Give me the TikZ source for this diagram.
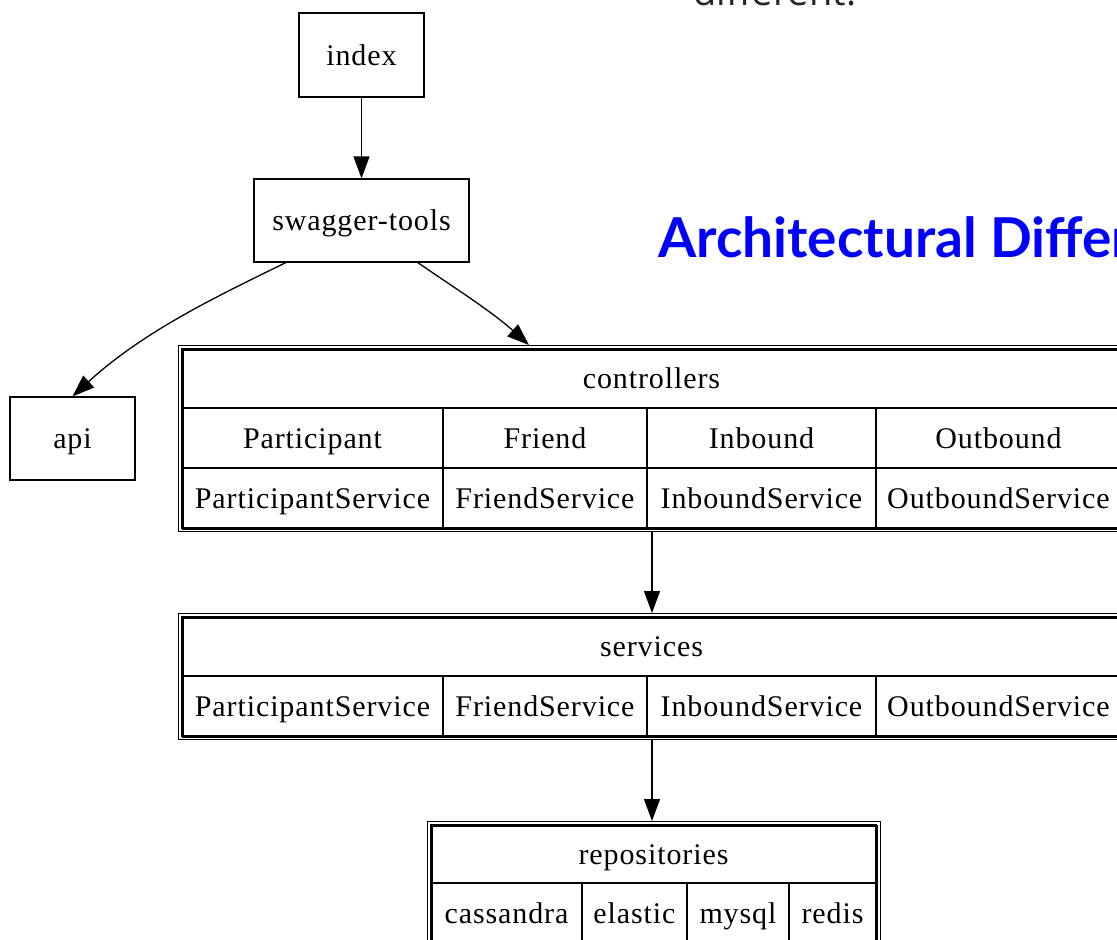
\documentclass[tikz,border=0pt]{standalone}
\usepackage{fontspec}
\setmainfont{Liberation Serif}[LetterSpace=3]
\newfontfamily\titlefont{Lato}
\newfontfamily\topfont{Open Sans}
\usetikzlibrary{arrows.meta}
\begin{document}
\begin{tikzpicture}[x=1pt,y=-1pt,
  box/.style={draw, line width=1.3pt, inner sep=0pt, text height=24pt, text depth=4pt, font=\fontsize{30}{36}\selectfont},
  cell/.style={draw, line width=1.3pt, inner sep=0pt, text height=24pt, text depth=4pt, font=\fontsize{30}{36}\selectfont},
  outerframe/.style={draw, line width=1pt, inner sep=0pt, anchor=north west},
  innerframe/.style={draw, line width=2pt, inner sep=0pt, anchor=north west},
  edge/.style={line width=1.3pt, -{Triangle[width=16pt,length=22pt]}}
]
\clip (0,0) rectangle (1117,940);
\useasboundingbox (0,0) rectangle (1117,940);
\fill[white] (0,0) rectangle (1117,940);

% cut-off text at the top
\node[anchor=base west, inner sep=0pt, text=black!85, font=\topfont\fontsize{38}{44}\selectfont] (diff) at (693,5) {different.};
% title
\node[anchor=base west, inner sep=0pt, text={rgb,255:red,0;green,0;blue,255}, font=\titlefont\bfseries\fontsize{55}{60}\selectfont] (title) at (658,257) {Architectural Differences};

% simple boxes
\node[box, minimum width=125pt, minimum height=84pt] (index) at (361.5,55) {index};
\node[box, minimum width=215pt, minimum height=83pt] (swagger) at (361.5,220.5) {swagger-tools};
\node[box, minimum width=125pt, minimum height=83pt] (api) at (72.5,438.5) {api};

% controllers table
\node[outerframe, minimum width=947pt, minimum height=186pt] (ctrlO) at (178,345) {};
\node[innerframe, minimum width=939pt, minimum height=179pt] (ctrl) at (182,349) {};
\node[cell, minimum width=939pt, minimum height=59pt] (ctrlT) at (651.5,378.5) {controllers};
\node[cell, minimum width=261pt, minimum height=60pt] (cP) at (312.5,438) {Participant};
\node[cell, minimum width=204pt, minimum height=60pt] (cF) at (545,438) {Friend};
\node[cell, minimum width=229pt, minimum height=60pt] (cI) at (761.5,438) {Inbound};
\node[cell, minimum width=245pt, minimum height=60pt] (cO) at (998.5,438) {Outbound};
\node[cell, minimum width=261pt, minimum height=60pt] (cPS) at (312.5,498) {ParticipantService};
\node[cell, minimum width=204pt, minimum height=60pt] (cFS) at (545,498) {FriendService};
\node[cell, minimum width=229pt, minimum height=60pt] (cIS) at (761.5,498) {InboundService};
\node[cell, minimum width=245pt, minimum height=60pt] (cOS) at (998.5,498) {OutboundService};
\draw[innerframe] (182,349) rectangle (1121,528);

% services table
\node[outerframe, minimum width=947pt, minimum height=126pt] (servO) at (178,613) {};
\node[innerframe, minimum width=939pt, minimum height=119pt] (serv) at (182,617) {};
\node[cell, minimum width=939pt, minimum height=59pt] (sT) at (651.5,646.5) {services};
\node[cell, minimum width=261pt, minimum height=60pt] (sPS) at (312.5,706) {ParticipantService};
\node[cell, minimum width=204pt, minimum height=60pt] (sFS) at (545,706) {FriendService};
\node[cell, minimum width=229pt, minimum height=60pt] (sIS) at (761.5,706) {InboundService};
\node[cell, minimum width=245pt, minimum height=60pt] (sOS) at (998.5,706) {OutboundService};
\draw[innerframe] (182,617) rectangle (1121,736);

% repositories table
\node[outerframe, minimum width=453pt, minimum height=140pt] (repoO) at (427,821) {};
\node[innerframe, minimum width=445pt, minimum height=130pt] (repo) at (431,825) {};
\node[cell, minimum width=445pt, minimum height=58pt] (rT) at (653.5,854) {repositories};
\node[cell, minimum width=151pt, minimum height=60pt] (rC) at (506.5,913) {cassandra};
\node[cell, minimum width=105pt, minimum height=60pt] (rE) at (634.5,913) {elastic};
\node[cell, minimum width=102pt, minimum height=60pt] (rM) at (738,913) {mysql};
\node[cell, minimum width=87pt, minimum height=60pt] (rR) at (832.5,913) {redis};
\draw[innerframe] (431,825) rectangle (876,960);

% connector end points
\coordinate (swL) at (287,262);
\coordinate (swR) at (417,262);
\coordinate (ctrlIn) at (529,345);
\coordinate (ctrlOut) at (652,531);
\coordinate (servIn) at (652,613);
\coordinate (servOut) at (652,739);
\coordinate (repoIn) at (652,821);

% connectors
\draw[edge] (index.south) -- (swagger.north);
\draw[edge] (swL) .. controls (220,295) and (145,330) .. (api.north);
\draw[edge] (swR) .. controls (450,285) and (490,310) .. (ctrlIn);
\draw[edge] (ctrlOut) -- (servIn);
\draw[edge] (servOut) -- (repoIn);
\end{tikzpicture}
\end{document}
